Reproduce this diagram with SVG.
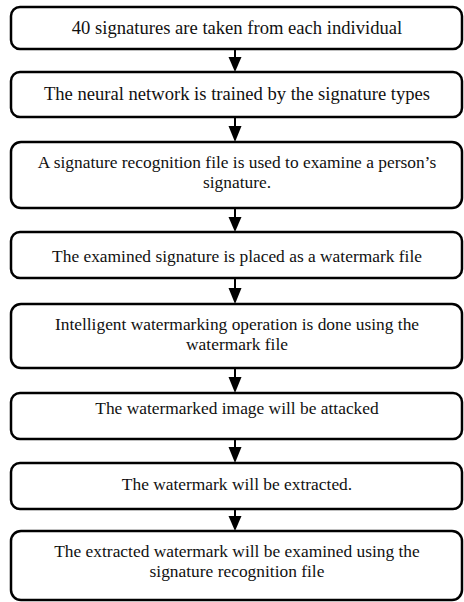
<svg xmlns="http://www.w3.org/2000/svg" width="464" height="602" viewBox="0 0 464 602">
  <defs>
    <style>
      .box { fill: #ffffff; stroke: #000000; stroke-width: 2.5; }
      .lbl { font-family: "Liberation Serif", "Times New Roman", serif; font-size: 17.4px; fill: #111111; text-anchor: middle; }
      .lbl1 { font-size: 18.6px; }
      .conn { stroke: #000000; stroke-width: 2; fill: none; }
      .head { fill: #000000; stroke: none; }
    </style>
  </defs>
  <rect width="464" height="602" fill="#ffffff"/>

  <!-- connectors: stem + filled triangular head -->
  <g id="connectors">
    <line class="conn" x1="235" y1="49" x2="235" y2="60"/>
    <polygon class="head" points="228.5,57 241.5,57 235,72"/>
    <line class="conn" x1="235" y1="117" x2="235" y2="129"/>
    <polygon class="head" points="228.5,126 241.5,126 235,142"/>
    <line class="conn" x1="235" y1="208" x2="235" y2="220"/>
    <polygon class="head" points="228.5,217 241.5,217 235,232"/>
    <line class="conn" x1="235" y1="278" x2="235" y2="291"/>
    <polygon class="head" points="228.5,288 241.5,288 235,304"/>
    <line class="conn" x1="235" y1="368" x2="235" y2="380"/>
    <polygon class="head" points="228.5,377 241.5,377 235,393"/>
    <line class="conn" x1="235" y1="439" x2="235" y2="450"/>
    <polygon class="head" points="228.5,447 241.5,447 235,463"/>
    <line class="conn" x1="235" y1="509" x2="235" y2="519"/>
    <polygon class="head" points="228.5,516 241.5,516 235,531"/>
  </g>

  <g id="n1">
    <rect class="box" x="11" y="7" width="451" height="42" rx="9"/>
    <text class="lbl lbl1" x="237" y="34">40 signatures are taken from each individual</text>
  </g>
  <g id="n2">
    <rect class="box" x="11" y="72" width="451" height="45" rx="9"/>
    <text class="lbl lbl1" x="237" y="100">The neural network is trained by the signature types</text>
  </g>
  <g id="n3">
    <rect class="box" x="11" y="142" width="451" height="66" rx="10"/>
    <text class="lbl" x="237" y="168">A signature recognition file is used to examine a person’s</text>
    <text class="lbl" x="237" y="187.5">signature.</text>
  </g>
  <g id="n4">
    <rect class="box" x="11" y="232" width="451" height="46" rx="9"/>
    <text class="lbl" x="237" y="262">The examined signature is placed as a watermark file</text>
  </g>
  <g id="n5">
    <rect class="box" x="11" y="304" width="451" height="64" rx="10"/>
    <text class="lbl" x="237" y="330">Intelligent watermarking operation is done using the</text>
    <text class="lbl" x="237" y="349.5">watermark file</text>
  </g>
  <g id="n6">
    <rect class="box" x="11" y="393" width="451" height="46" rx="9"/>
    <text class="lbl" x="237" y="414">The watermarked image will be attacked</text>
  </g>
  <g id="n7">
    <rect class="box" x="11" y="463" width="451" height="46" rx="9"/>
    <text class="lbl" x="237" y="490">The watermark will be extracted.</text>
  </g>
  <g id="n8">
    <rect class="box" x="11" y="531" width="451" height="69" rx="10"/>
    <text class="lbl" x="237" y="557">The extracted watermark will be examined using the</text>
    <text class="lbl" x="237" y="576.5">signature recognition file</text>
  </g>
</svg>
